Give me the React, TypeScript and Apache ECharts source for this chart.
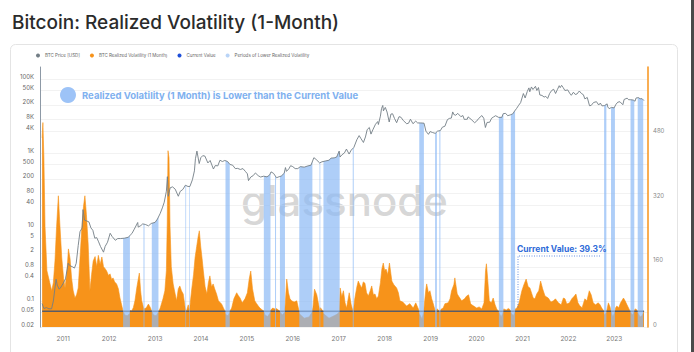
import React, { useEffect, useRef } from 'react';
import * as echarts from 'echarts';

const TITLE = 'Bitcoin: Realized Volatility (1-Month)';
const CURRENT_VALUE = 39.3;
const X_START = '2010-07-01';
const X_END = '2023-09-26';
const yearTicks = [2011, 2012, 2013, 2014, 2015, 2016, 2017, 2018, 2019, 2020, 2021, 2022, 2023];
const priceTicks = [0.02, 0.05, 0.1, 0.4, 0.8, 2, 5, 10, 40, 80, 200, 500, 1000, 4000, 8000, 20000, 50000, 100000];
const volTicks = [0, 160, 320, 480];
const legendNames = ['BTC Price [USD]', 'BTC Realized Volatility (1 Month)', 'Current Value', 'Periods of Lower Realized Volatility'];

const btcPrice: [string, number][] = [
  ['2010-07-18', 0.086], ['2010-08-01', 0.063], ['2010-08-20', 0.067], ['2010-09-10', 0.062], ['2010-10-01', 0.062],
  ['2010-10-15', 0.1], ['2010-11-06', 0.39], ['2010-11-15', 0.27], ['2010-12-01', 0.21], ['2010-12-15', 0.24],
  ['2011-01-01', 0.3], ['2011-01-20', 0.4], ['2011-02-10', 1.05], ['2011-02-25', 0.9], ['2011-03-15', 0.85],
  ['2011-04-01', 0.78], ['2011-04-15', 1.05], ['2011-05-01', 3.2], ['2011-05-15', 7.5], ['2011-06-01', 9.5],
  ['2011-06-08', 29.6], ['2011-06-20', 15.5], ['2011-07-10', 14.5], ['2011-07-25', 13.8], ['2011-08-10', 9.5],
  ['2011-08-25', 8.2], ['2011-09-10', 5.0], ['2011-09-25', 5.2], ['2011-10-10', 4.0], ['2011-10-25', 3.0],
  ['2011-11-18', 2.1], ['2011-12-01', 3.0], ['2011-12-20', 3.9], ['2012-01-10', 6.8], ['2012-01-25', 5.6],
  ['2012-02-20', 4.4], ['2012-03-10', 4.9], ['2012-04-01', 4.9], ['2012-05-01', 5.0], ['2012-06-01', 5.3],
  ['2012-07-01', 6.7], ['2012-07-20', 8.8], ['2012-08-16', 13.3], ['2012-08-20', 10], ['2012-09-10', 11],
  ['2012-09-25', 12.2], ['2012-10-15', 11.8], ['2012-11-10', 10.8], ['2012-12-01', 12.5], ['2013-01-01', 13.4],
  ['2013-01-20', 16.5], ['2013-02-10', 23], ['2013-02-28', 33], ['2013-03-15', 47], ['2013-04-01', 93],
  ['2013-04-09', 230], ['2013-04-16', 68], ['2013-05-01', 115], ['2013-05-20', 122], ['2013-06-10', 106],
  ['2013-07-05', 68], ['2013-07-20', 92], ['2013-08-10', 104], ['2013-08-30', 135], ['2013-09-20', 125],
  ['2013-10-05', 125], ['2013-10-25', 190], ['2013-11-10', 330], ['2013-11-18', 700], ['2013-11-30', 1130],
  ['2013-12-18', 520], ['2013-12-31', 750], ['2014-01-15', 850], ['2014-02-01', 830], ['2014-02-25', 540],
  ['2014-03-15', 630], ['2014-04-10', 370], ['2014-04-25', 460], ['2014-05-15', 450], ['2014-06-01', 640],
  ['2014-06-20', 590], ['2014-07-10', 630], ['2014-08-01', 590], ['2014-08-20', 490], ['2014-09-10', 470],
  ['2014-10-01', 380], ['2014-10-20', 385], ['2014-11-10', 360], ['2014-12-01', 380], ['2014-12-20', 320],
  ['2015-01-05', 275], ['2015-01-14', 180], ['2015-02-01', 225], ['2015-02-20', 245], ['2015-03-10', 290],
  ['2015-04-01', 245], ['2015-04-20', 225], ['2015-05-15', 237], ['2015-06-10', 228], ['2015-07-01', 255],
  ['2015-07-12', 310], ['2015-08-01', 283], ['2015-08-25', 215], ['2015-09-15', 230], ['2015-10-01', 238],
  ['2015-10-25', 285], ['2015-11-04', 405], ['2015-11-12', 320], ['2015-12-01', 375], ['2015-12-15', 455],
  ['2016-01-01', 430], ['2016-01-20', 380], ['2016-02-10', 380], ['2016-03-01', 430], ['2016-04-01', 416],
  ['2016-05-01', 450], ['2016-05-25', 470], ['2016-06-17', 750], ['2016-07-05', 670], ['2016-08-02', 540],
  ['2016-08-20', 580], ['2016-09-15', 608], ['2016-10-15', 640], ['2016-11-01', 730], ['2016-11-25', 740],
  ['2016-12-15', 780], ['2017-01-04', 1130], ['2017-01-11', 780], ['2017-01-25', 890], ['2017-02-15', 1010],
  ['2017-03-03', 1280], ['2017-03-24', 940], ['2017-04-10', 1200], ['2017-05-01', 1420], ['2017-05-25', 2300],
  ['2017-06-12', 2960], ['2017-06-25', 2500], ['2017-07-16', 1930], ['2017-08-01', 2720], ['2017-08-15', 4300],
  ['2017-09-01', 4900], ['2017-09-14', 3250], ['2017-10-01', 4400], ['2017-10-20', 6000], ['2017-11-07', 7100],
  ['2017-11-12', 5900], ['2017-11-28', 9900], ['2017-12-07', 16000], ['2017-12-17', 19300], ['2017-12-22', 13800],
  ['2018-01-06', 17100], ['2018-01-20', 12800], ['2018-02-06', 6900], ['2018-02-20', 11300], ['2018-03-05', 11500],
  ['2018-03-20', 8600], ['2018-04-06', 6600], ['2018-04-25', 9600], ['2018-05-10', 9300], ['2018-05-30', 7500],
  ['2018-06-25', 6200], ['2018-07-10', 6400], ['2018-07-25', 8200], ['2018-08-14', 6200], ['2018-09-05', 7300],
  ['2018-09-20', 6500], ['2018-10-15', 6500], ['2018-11-10', 6400], ['2018-11-25', 3900], ['2018-12-15', 3200],
  ['2018-12-28', 3800], ['2019-01-15', 3600], ['2019-02-07', 3400], ['2019-02-25', 3900], ['2019-03-20', 4050],
  ['2019-04-05', 5000], ['2019-04-25', 5300], ['2019-05-15', 8000], ['2019-05-30', 8600], ['2019-06-15', 8800],
  ['2019-06-26', 12900], ['2019-07-05', 11000], ['2019-07-20', 10500], ['2019-08-05', 11800], ['2019-08-30', 9600],
  ['2019-09-15', 10300], ['2019-09-26', 8100], ['2019-10-20', 8200], ['2019-10-26', 9500], ['2019-11-20', 8100],
  ['2019-12-17', 6600], ['2020-01-01', 7200], ['2020-01-20', 8700], ['2020-02-13', 10300], ['2020-02-28', 8700],
  ['2020-03-12', 4900], ['2020-03-25', 6700], ['2020-04-15', 6800], ['2020-04-30', 8700], ['2020-05-15', 9400],
  ['2020-06-01', 10200], ['2020-06-25', 9200], ['2020-07-20', 9200], ['2020-08-01', 11600], ['2020-08-20', 11800],
  ['2020-09-05', 10200], ['2020-09-25', 10700], ['2020-10-15', 11400], ['2020-10-30', 13600], ['2020-11-15', 16000],
  ['2020-12-01', 19400], ['2020-12-17', 23000], ['2021-01-08', 40500], ['2021-01-22', 30800], ['2021-02-08', 46000],
  ['2021-02-21', 57500], ['2021-02-28', 45200], ['2021-03-13', 61000], ['2021-03-25', 52000], ['2021-04-14', 63500],
  ['2021-04-25', 49000], ['2021-05-08', 58800], ['2021-05-19', 37000], ['2021-06-05', 36000], ['2021-06-22', 32500],
  ['2021-07-05', 34000], ['2021-07-20', 29800], ['2021-08-05', 40800], ['2021-08-22', 49300], ['2021-09-06', 52700],
  ['2021-09-21', 40600], ['2021-10-05', 51500], ['2021-10-20', 66000], ['2021-10-28', 58500], ['2021-11-08', 67500],
  ['2021-11-20', 59000], ['2021-12-04', 49000], ['2021-12-27', 50700], ['2022-01-10', 41800], ['2022-01-24', 36300],
  ['2022-02-10', 44000], ['2022-02-24', 38300], ['2022-03-10', 39300], ['2022-03-29', 47400], ['2022-04-15', 40500],
  ['2022-04-30', 37700], ['2022-05-12', 29000], ['2022-05-31', 31800], ['2022-06-18', 19000], ['2022-07-01', 19300],
  ['2022-07-20', 23200], ['2022-08-12', 24400], ['2022-08-30', 19800], ['2022-09-12', 22400], ['2022-09-25', 18800],
  ['2022-10-15', 19100], ['2022-11-05', 21300], ['2022-11-10', 17600], ['2022-11-21', 15800], ['2022-12-10', 17100],
  ['2022-12-30', 16550], ['2023-01-15', 20900], ['2023-01-29', 23700], ['2023-02-15', 24300], ['2023-03-10', 20200],
  ['2023-03-20', 28000], ['2023-04-13', 30400], ['2023-04-25', 27500], ['2023-05-10', 27600], ['2023-06-01', 27000],
  ['2023-06-15', 25100], ['2023-06-23', 30700], ['2023-07-13', 31400], ['2023-07-25', 29200], ['2023-08-10', 29400],
  ['2023-08-25', 26100],
];

const realizedVol: [string, number][] = [
  ['2010-07-18', 470], ['2010-07-24', 508], ['2010-08-01', 420], ['2010-08-10', 250], ['2010-08-25', 140],
  ['2010-09-19', 107], ['2010-10-02', 90], ['2010-10-15', 110], ['2010-10-28', 164], ['2010-11-10', 250],
  ['2010-11-24', 326], ['2010-12-05', 260], ['2010-12-21', 172], ['2011-01-05', 120], ['2011-01-16', 97],
  ['2011-02-01', 140], ['2011-02-12', 194], ['2011-02-25', 170], ['2011-03-09', 122], ['2011-03-22', 90],
  ['2011-04-05', 72], ['2011-04-18', 80], ['2011-05-01', 97], ['2011-05-15', 170], ['2011-05-28', 239],
  ['2011-06-12', 300], ['2011-06-23', 326], ['2011-07-05', 280], ['2011-07-19', 206], ['2011-08-02', 90],
  ['2011-08-15', 130], ['2011-08-28', 164], ['2011-09-12', 175], ['2011-09-25', 150], ['2011-10-08', 178],
  ['2011-10-22', 155], ['2011-11-05', 174], ['2011-11-18', 150], ['2011-12-01', 145], ['2011-12-13', 139],
  ['2011-12-28', 128], ['2012-01-09', 132], ['2012-01-22', 118], ['2012-02-02', 122], ['2012-02-15', 112],
  ['2012-03-01', 107], ['2012-03-15', 95], ['2012-03-28', 72], ['2012-04-10', 55], ['2012-04-21', 40],
  ['2012-05-05', 30], ['2012-05-25', 28], ['2012-06-12', 33], ['2012-06-18', 41], ['2012-06-29', 40],
  ['2012-07-12', 48], ['2012-07-25', 65], ['2012-08-10', 100], ['2012-08-29', 134], ['2012-09-08', 90],
  ['2012-09-17', 65], ['2012-10-01', 48], ['2012-10-05', 37], ['2012-10-10', 46], ['2012-10-22', 47],
  ['2012-11-09', 57], ['2012-11-25', 48], ['2012-12-05', 40], ['2012-12-20', 30], ['2013-01-10', 28],
  ['2013-01-26', 36], ['2013-02-11', 47], ['2013-03-05', 70], ['2013-03-20', 90], ['2013-04-01', 140],
  ['2013-04-08', 260], ['2013-04-14', 438], ['2013-04-22', 420], ['2013-04-30', 250], ['2013-05-10', 150],
  ['2013-05-25', 107], ['2013-06-08', 85], ['2013-06-21', 65], ['2013-07-05', 95], ['2013-07-17', 102],
  ['2013-07-30', 90], ['2013-08-13', 82], ['2013-08-25', 55], ['2013-09-02', 38], ['2013-09-10', 42],
  ['2013-09-22', 55], ['2013-10-02', 38], ['2013-10-08', 60], ['2013-10-20', 95], ['2013-11-03', 130],
  ['2013-11-15', 172], ['2013-11-28', 200], ['2013-12-10', 225], ['2013-12-19', 239], ['2013-12-30', 200],
  ['2014-01-10', 170], ['2014-01-20', 139], ['2014-02-03', 100], ['2014-02-17', 82], ['2014-03-01', 110],
  ['2014-03-13', 127], ['2014-03-26', 100], ['2014-04-08', 107], ['2014-04-20', 95], ['2014-05-05', 82],
  ['2014-05-20', 65], ['2014-06-14', 57], ['2014-06-28', 48], ['2014-07-10', 40], ['2014-07-20', 30],
  ['2014-08-05', 28], ['2014-08-16', 36], ['2014-08-22', 41], ['2014-09-02', 47], ['2014-09-20', 70],
  ['2014-10-12', 85], ['2014-10-25', 78], ['2014-11-08', 72], ['2014-11-25', 60], ['2014-12-17', 70],
  ['2015-01-05', 85], ['2015-01-20', 120], ['2015-02-01', 139], ['2015-02-15', 95], ['2015-03-05', 65],
  ['2015-03-20', 58], ['2015-04-02', 52], ['2015-04-15', 47], ['2015-05-01', 43], ['2015-05-14', 40],
  ['2015-05-25', 30], ['2015-06-15', 26], ['2015-07-05', 35], ['2015-07-10', 42], ['2015-07-25', 47],
  ['2015-08-12', 45], ['2015-08-17', 37], ['2015-08-22', 46], ['2015-09-10', 42], ['2015-09-20', 38],
  ['2015-10-10', 30], ['2015-10-28', 36], ['2015-11-03', 60], ['2015-11-14', 119], ['2015-11-28', 85],
  ['2015-12-10', 70], ['2015-12-23', 65], ['2016-01-12', 62], ['2016-02-02', 65], ['2016-02-18', 42],
  ['2016-02-25', 32], ['2016-04-01', 22], ['2016-05-10', 25], ['2016-06-03', 37], ['2016-06-10', 50],
  ['2016-06-22', 94], ['2016-07-10', 80], ['2016-07-25', 55], ['2016-08-04', 37], ['2016-08-08', 48],
  ['2016-08-22', 42], ['2016-09-05', 32], ['2016-10-15', 22], ['2016-11-25', 28], ['2016-12-20', 32],
  ['2017-01-06', 38], ['2017-01-12', 97], ['2017-01-25', 75], ['2017-02-07', 90], ['2017-02-20', 60],
  ['2017-03-04', 47], ['2017-03-25', 85], ['2017-04-10', 55], ['2017-04-26', 37], ['2017-05-08', 70],
  ['2017-05-25', 100], ['2017-06-05', 114], ['2017-06-18', 105], ['2017-07-02', 97], ['2017-07-15', 112],
  ['2017-07-28', 109], ['2017-08-10', 85], ['2017-08-24', 77], ['2017-09-08', 90], ['2017-09-20', 102],
  ['2017-10-03', 80], ['2017-10-16', 82], ['2017-10-30', 70], ['2017-11-12', 77], ['2017-11-28', 110],
  ['2017-12-10', 145], ['2017-12-21', 159], ['2018-01-01', 140], ['2018-01-12', 144], ['2018-01-25', 130],
  ['2018-02-08', 159], ['2018-02-27', 114], ['2018-03-15', 105], ['2018-04-06', 97], ['2018-04-20', 85],
  ['2018-05-02', 65], ['2018-05-25', 62], ['2018-06-24', 52], ['2018-07-20', 58], ['2018-08-16', 47],
  ['2018-09-05', 60], ['2018-09-26', 45], ['2018-10-05', 32], ['2018-10-25', 20], ['2018-11-07', 36],
  ['2018-11-12', 55], ['2018-11-25', 95], ['2018-12-01', 107], ['2018-12-15', 85], ['2018-12-27', 90],
  ['2019-01-10', 70], ['2019-01-23', 57], ['2019-02-05', 42], ['2019-02-12', 34], ['2019-02-22', 45],
  ['2019-03-05', 42], ['2019-03-16', 37], ['2019-03-25', 44], ['2019-04-11', 47], ['2019-04-25', 58],
  ['2019-05-21', 60], ['2019-06-05', 70], ['2019-06-17', 90], ['2019-07-05', 105], ['2019-07-13', 122],
  ['2019-08-01', 82], ['2019-08-15', 75], ['2019-09-05', 65], ['2019-09-28', 70], ['2019-10-15', 77],
  ['2019-10-30', 80], ['2019-11-16', 57], ['2019-12-10', 52], ['2020-01-03', 47], ['2020-01-22', 50],
  ['2020-02-12', 45], ['2020-03-01', 60], ['2020-03-13', 140], ['2020-03-20', 157], ['2020-03-30', 120],
  ['2020-04-12', 65], ['2020-04-28', 60], ['2020-05-13', 72], ['2020-05-28', 55], ['2020-06-10', 45],
  ['2020-06-25', 38], ['2020-07-15', 25], ['2020-07-30', 35], ['2020-08-05', 45], ['2020-08-25', 42],
  ['2020-09-10', 46], ['2020-09-24', 43], ['2020-10-02', 35], ['2020-10-20', 28], ['2020-11-01', 36],
  ['2020-11-05', 45], ['2020-11-17', 47], ['2020-12-05', 60], ['2020-12-27', 90], ['2021-01-12', 105],
  ['2021-01-30', 119], ['2021-02-15', 100], ['2021-03-01', 97], ['2021-03-27', 72], ['2021-04-10', 70],
  ['2021-04-24', 82], ['2021-05-10', 90], ['2021-05-25', 114], ['2021-06-10', 95], ['2021-06-29', 77],
  ['2021-07-25', 72], ['2021-08-15', 62], ['2021-09-04', 65], ['2021-09-20', 70], ['2021-10-13', 60],
  ['2021-11-05', 55], ['2021-11-22', 72], ['2021-12-05', 70], ['2021-12-19', 57], ['2022-01-10', 60],
  ['2022-01-28', 70], ['2022-02-12', 75], ['2022-03-02', 82], ['2022-03-18', 60], ['2022-04-03', 52],
  ['2022-04-20', 48], ['2022-05-12', 70], ['2022-05-28', 65], ['2022-06-16', 90], ['2022-07-01', 80],
  ['2022-07-17', 60], ['2022-08-05', 55], ['2022-08-26', 60], ['2022-09-10', 55], ['2022-09-23', 47],
  ['2022-10-05', 42], ['2022-10-15', 30], ['2022-10-30', 36], ['2022-11-05', 45], ['2022-11-15', 60],
  ['2022-11-28', 50], ['2022-12-05', 40], ['2022-12-20', 25], ['2023-01-05', 37], ['2023-01-12', 48],
  ['2023-01-21', 52], ['2023-02-05', 48], ['2023-02-20', 60], ['2023-03-15', 72], ['2023-03-28', 65],
  ['2023-04-12', 55], ['2023-04-28', 45], ['2023-05-08', 38], ['2023-05-25', 30], ['2023-06-08', 38],
  ['2023-06-15', 45], ['2023-06-28', 43], ['2023-07-06', 36], ['2023-07-25', 25], ['2023-08-10', 28],
  ['2023-08-25', 39.3],
];

const lowerVolPeriods: [string, string][] = [
  ['2012-04-22', '2012-06-15'], ['2012-10-01', '2012-10-09'], ['2012-12-06', '2013-01-28'],
  ['2013-08-30', '2013-09-05'], ['2013-09-29', '2013-10-04'],
  ['2014-07-15', '2014-08-18'], ['2015-05-16', '2015-07-08'], ['2015-08-13', '2015-08-21'],
  ['2015-09-21', '2015-10-31'], ['2016-02-22', '2016-06-05'], ['2016-08-01', '2016-08-07'],
  ['2016-09-01', '2017-01-08'], ['2017-04-22', '2017-04-30'], ['2018-10-03', '2018-11-09'],
  ['2019-02-06', '2019-02-20'], ['2019-03-12', '2019-03-20'], ['2020-06-27', '2020-08-02'],
  ['2020-09-30', '2020-11-03'], ['2022-10-12', '2022-10-30'], ['2022-12-06', '2023-01-06'],
  ['2023-05-10', '2023-06-09'], ['2023-07-06', '2023-08-19'],
];

const LOG_MIN = Math.log10(0.02);
const LOG_MAX = LOG_MIN + 260 / 37.02;
const VOL_MAX = 646;

const ts = (s: string) => new Date(s + 'T00:00:00').getTime();

function fmtPrice(v: number): string {
  const r = Number(Math.pow(10, v).toPrecision(2));
  return r >= 1000 ? `${r / 1000}K` : String(r);
}

export default function App() {
  const ref = useRef<HTMLDivElement>(null);
  useEffect(() => {
    if (!ref.current) return;
    const chart = echarts.init(ref.current, null, { renderer: 'svg' });
    const logTicks = priceTicks.map((p) => Math.log10(p));
    const firstDate = ts(realizedVol[0][0]);
    const lastDate = ts(realizedVol[realizedVol.length - 1][0]);
    const pricePts: [number, number][] = btcPrice.map(([d, p]) => [ts(d), Math.log10(p)]);

    const logPriceAt = (t: number): number => {
      if (t <= pricePts[0][0]) return pricePts[0][1];
      for (let i = 0; i < pricePts.length - 1; i++) {
        const [t0, v0] = pricePts[i];
        const [t1, v1] = pricePts[i + 1];
        if (t >= t0 && t <= t1) return v0 + ((v1 - v0) * (t - t0)) / (t1 - t0);
      }
      return pricePts[pricePts.length - 1][1];
    };

    chart.setOption({
      animation: false,
      backgroundColor: '#ffffff',
      textStyle: { fontFamily: 'Inter' },
      legend: {
        data: legendNames,
        left: 36,
        top: 53,
        icon: 'circle',
        itemWidth: 4,
        itemHeight: 4,
        itemGap: 10,
        padding: 0,
        selectedMode: false,
        textStyle: { fontSize: 4.5, color: '#666' },
      },
      grid: { left: 40, right: 46, top: 67, bottom: 25 },
      xAxis: {
        type: 'value',
        min: ts(X_START),
        max: ts(X_END),
        axisLine: { show: false, onZero: false },
        axisTick: { show: false },
        splitLine: { show: false },
        axisLabel: {
          customValues: yearTicks.map((y) => new Date(y, 0, 1).getTime()),
          formatter: (v: number) => String(new Date(v).getFullYear()),
          fontSize: 6.5,
          color: '#777',
          margin: 8,
        },
      },
      yAxis: [
        {
          type: 'value',
          min: LOG_MIN,
          max: LOG_MAX,
          position: 'left',
          axisLine: { show: true, onZero: false, lineStyle: { color: '#8d99a6', width: 1 } },
          axisTick: { show: false, customValues: logTicks },
          axisLabel: {
            customValues: logTicks,
            formatter: fmtPrice,
            fontSize: 6,
            color: '#666',
            margin: 6,
            verticalAlign: 'bottom',
          },
          splitLine: { show: true, lineStyle: { color: '#efefef', width: 0.8 } },
        },
        {
          type: 'value',
          min: 0,
          max: VOL_MAX,
          position: 'right',
          axisLine: { show: true, onZero: false, lineStyle: { color: '#f7931a', width: 1.5 } },
          axisTick: { show: false, customValues: volTicks },
          axisLabel: {
            customValues: volTicks,
            fontSize: 6,
            color: '#888',
            margin: 5,
            verticalAlign: 'bottom',
          },
          splitLine: { show: false },
        },
      ],
      series: [
        {
          name: legendNames[1],
          type: 'line',
          yAxisIndex: 1,
          data: realizedVol.map(([d, v]) => [ts(d), v]),
          symbol: 'none',
          lineStyle: { width: 0.6, color: '#f7931a' },
          areaStyle: { color: '#f7931a', opacity: 1 },
          itemStyle: { color: '#f7931a' },
          z: 1,
        },
        {
          name: legendNames[2],
          type: 'line',
          yAxisIndex: 1,
          data: [[firstDate, CURRENT_VALUE], [lastDate, CURRENT_VALUE]],
          symbol: 'none',
          lineStyle: { color: '#5a5c66', width: 1.5 },
          itemStyle: { color: '#1d4ed8' },
          z: 2,
        },
        {
          name: legendNames[3],
          type: 'custom',
          yAxisIndex: 0,
          data: lowerVolPeriods.map(([a, b]) => [ts(a), ts(b)]),
          encode: { x: [0, 1] },
          itemStyle: { color: '#b9d4f7' },
          z: 3,
          renderItem: (params: any, api: any) => {
            const s = api.value(0);
            const e = api.value(1);
            const cs = params.coordSys;
            const bottom = cs.y + cs.height;
            const top: [number, number][] = [[s, logPriceAt(s)]];
            for (const p of pricePts) if (p[0] > s && p[0] < e) top.push(p);
            top.push([e, logPriceAt(e)]);
            const pix = top.map((p) => api.coord(p));
            const points = [[pix[0][0], bottom], ...pix, [pix[pix.length - 1][0], bottom]];
            return {
              type: 'polygon',
              shape: { points },
              style: { fill: 'rgba(140,185,245,0.7)' },
            };
          },
        },
        {
          name: legendNames[0],
          type: 'line',
          yAxisIndex: 0,
          data: pricePts,
          symbol: 'none',
          lineStyle: { color: '#737e86', width: 0.9 },
          itemStyle: { color: '#737e86' },
          z: 4,
        },
      ],
      graphic: [
        {
          type: 'rect',
          z: -1,
          shape: { x: 10.5, y: 44.5, width: 667, height: 340, r: 5 },
          style: { fill: 'none', stroke: '#e4e4e4', lineWidth: 1 },
        },
        {
          type: 'rect',
          z: 10,
          shape: { x: 691, y: 0, width: 3, height: 352 },
          style: { fill: '#4a4a4a' },
        },
        {
          type: 'text',
          z: 10,
          x: 12,
          y: 22,
          style: {
            text: TITLE,
            font: '500 19px Inter',
            fill: '#2b2b2b',
            textVerticalAlign: 'middle',
          },
        },
        {
          type: 'text',
          z: 0,
          x: 241,
          y: 200,
          style: {
            text: 'glassnode',
            font: '500 42px Inter',
            fill: 'rgba(165,165,165,0.45)',
            textVerticalAlign: 'middle',
          },
        },
        {
          type: 'circle',
          z: 10,
          shape: { cx: 68, cy: 95, r: 8 },
          style: { fill: '#9dc3f7' },
        },
        {
          type: 'text',
          z: 10,
          x: 82,
          y: 95,
          style: {
            text: 'Realized Volatility (1 Month) is Lower than the Current Value',
            font: 'bold 9.5px Inter',
            fill: '#7fb1ef',
            textVerticalAlign: 'middle',
          },
        },
        {
          type: 'text',
          z: 10,
          x: 517,
          y: 249,
          style: {
            text: `Current Value: ${CURRENT_VALUE}%`,
            font: 'bold 8.5px Inter',
            fill: '#2e6ad8',
            textVerticalAlign: 'middle',
          },
        },
        {
          type: 'polyline',
          z: 10,
          shape: { points: [[600, 256], [518, 256], [518, 309]] },
          style: { stroke: '#3c72dc', lineWidth: 0.8, lineDash: [1, 1.5], fill: 'none' },
        },
      ],
    });
    return () => chart.dispose();
  }, []);
  return (
    <div
      ref={ref}
      style={{ position: 'fixed', left: 0, top: 0, width: 694, height: 352, background: '#fff' }}
    />
  );
}
